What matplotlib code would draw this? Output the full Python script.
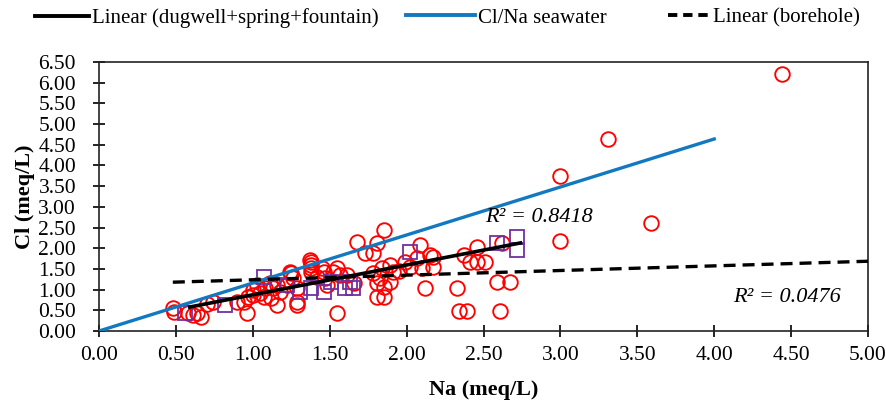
import matplotlib.pyplot as plt
from matplotlib.lines import Line2D

plt.rcParams['font.family'] = 'Liberation Serif'

# Dugwell / spring / fountain samples (red circles)
na_circle = [0.49, 0.48, 0.58, 0.61, 0.64, 0.66, 0.74, 0.90, 0.94, 0.97, 1.00, 1.05, 0.96,
             1.00, 1.03, 1.08, 1.11, 1.13, 1.16, 1.18, 1.16, 1.12, 1.07, 1.24, 1.26, 1.29,
             1.29, 1.29, 1.37, 1.38, 1.38, 1.45, 1.48, 1.55, 1.52, 1.38, 1.38, 1.55, 1.46,
             1.47, 1.25, 1.22, 1.85, 1.68, 1.81, 1.73, 1.78, 1.61, 1.57, 1.66, 1.78, 1.84,
             1.89, 1.91, 1.99, 2.07, 2.17, 2.10, 2.12, 1.83, 1.81, 1.85, 1.81, 1.85, 1.89,
             2.09, 2.15, 2.17, 2.33, 2.37, 2.46, 2.41, 2.46, 2.51, 2.62, 2.59, 2.67, 2.34,
             2.39, 2.61, 3.00, 3.00, 3.31, 3.59, 4.44, 2.02, 1.95, 0.70, 1.42]
cl_circle = [0.46, 0.56, 0.43, 0.39, 0.43, 0.34, 0.70, 0.70, 0.70, 0.82, 0.87, 0.92, 0.43,
             0.99, 1.11, 1.04, 1.16, 1.04, 1.11, 0.94, 0.63, 0.80, 0.82, 1.43, 1.28, 1.04,
             0.70, 0.63, 1.72, 1.59, 1.43, 1.52, 1.11, 0.43, 1.43, 1.67, 1.52, 1.52, 1.43,
             1.28, 1.40, 1.11, 2.44, 2.15, 2.13, 1.88, 1.88, 1.35, 1.35, 1.16, 1.40, 1.52,
             1.59, 1.43, 1.67, 1.76, 1.79, 1.52, 1.04, 1.28, 1.16, 1.06, 0.82, 0.82, 1.18,
             2.08, 1.84, 1.55, 1.04, 1.84, 2.03, 1.67, 1.67, 1.67, 2.13, 1.18, 1.18, 0.48,
             0.48, 0.48, 3.75, 2.17, 4.65, 2.61, 6.20, 1.55, 1.45, 0.65, 1.30]

# Borehole samples (purple squares)
na_square = [0.56, 0.82, 1.07, 1.22, 1.31, 1.38, 1.46, 1.51, 1.60, 1.63, 1.65,
             2.02, 2.59, 2.72, 2.72]
cl_square = [0.43, 0.63, 1.30, 1.11, 0.94, 1.04, 0.94, 1.18, 1.04, 1.18, 1.04,
             1.91, 2.13, 2.27, 1.96]

# Trend lines: x range, slope, intercept
fit_x = [0.59, 2.74]
fit_slope, fit_int = 0.72, 0.155
bore_x = [0.48, 5.0]
bore_slope, bore_int = 0.112, 1.126
sea_x = [0.0, 4.0]
sea_ratio = 1.16

BLUE = '#1278c0'
DASH = (3.6, 2.1)

fig = plt.figure(figsize=(8.87, 4.08), dpi=100)
ax = fig.add_axes([0.1116, 0.1887, 0.867, 0.6593])

ax.plot(na_circle, cl_circle, 'o', ms=10.5, mfc='none', mec='#ff0000', mew=1.35, zorder=2)
ax.plot(na_square, cl_square, 's', ms=9.5, mfc='none', mec='#7030a0', mew=1.3, zorder=2)

ax.plot(sea_x, [sea_ratio * x for x in sea_x], color=BLUE, lw=2.4, zorder=3)
ax.plot(fit_x, [fit_slope * x + fit_int for x in fit_x], color='black', lw=2.6, zorder=4)
ax.plot(bore_x, [bore_slope * x + bore_int for x in bore_x], color='black', lw=2.4,
        dashes=DASH, zorder=4)

ax.text(2.51, 2.75, 'R² = 0.8418', fontsize=16, style='italic', va='center')
ax.text(4.47, 0.82, 'R² = 0.0476', fontsize=16, style='italic', va='center', ha='center')

ax.set_xlim(0, 5)
ax.set_ylim(0, 6.5)
ax.set_xticks([i * 0.5 for i in range(11)])
ax.set_yticks([i * 0.5 for i in range(14)])
ax.set_xticklabels([f'{i * 0.5:.2f}' for i in range(11)])
ax.set_yticklabels([f'{i * 0.5:.2f}' for i in range(14)])
ax.tick_params(direction='inout', length=9, width=1.2, labelsize=15.5, colors='black')
ax.tick_params(axis='y', pad=12)
ax.tick_params(axis='x', pad=6)
for s in ax.spines.values():
    s.set_linewidth(1.2)
    s.set_color('#222222')

ax.set_xlabel('Na (meq/L)', fontsize=16, fontweight='bold', labelpad=11)
ax.set_ylabel('Cl (meq/L)', fontsize=16, fontweight='bold', labelpad=2)

# legend entries laid out one by one, each with its own handle length
entries = [
    (Line2D([], [], color='black', lw=2.8), 'Linear (dugwell+spring+fountain)', 0.039, 2.6),
    (Line2D([], [], color=BLUE, lw=2.8), 'Cl/Na seawater', 0.458, 3.3),
    (Line2D([], [], color='black', lw=2.8, dashes=(2.4, 1.5)), 'Linear (borehole)', 0.753, 2.0),
]
for h, lab, x0, hl in entries:
    fig.legend([h], [lab], loc='center left', bbox_to_anchor=(x0, 0.956),
               frameon=False, fontsize=15, handlelength=hl, handletextpad=0.15,
               borderpad=0, borderaxespad=0)

fig.savefig('out.png', dpi=100)
